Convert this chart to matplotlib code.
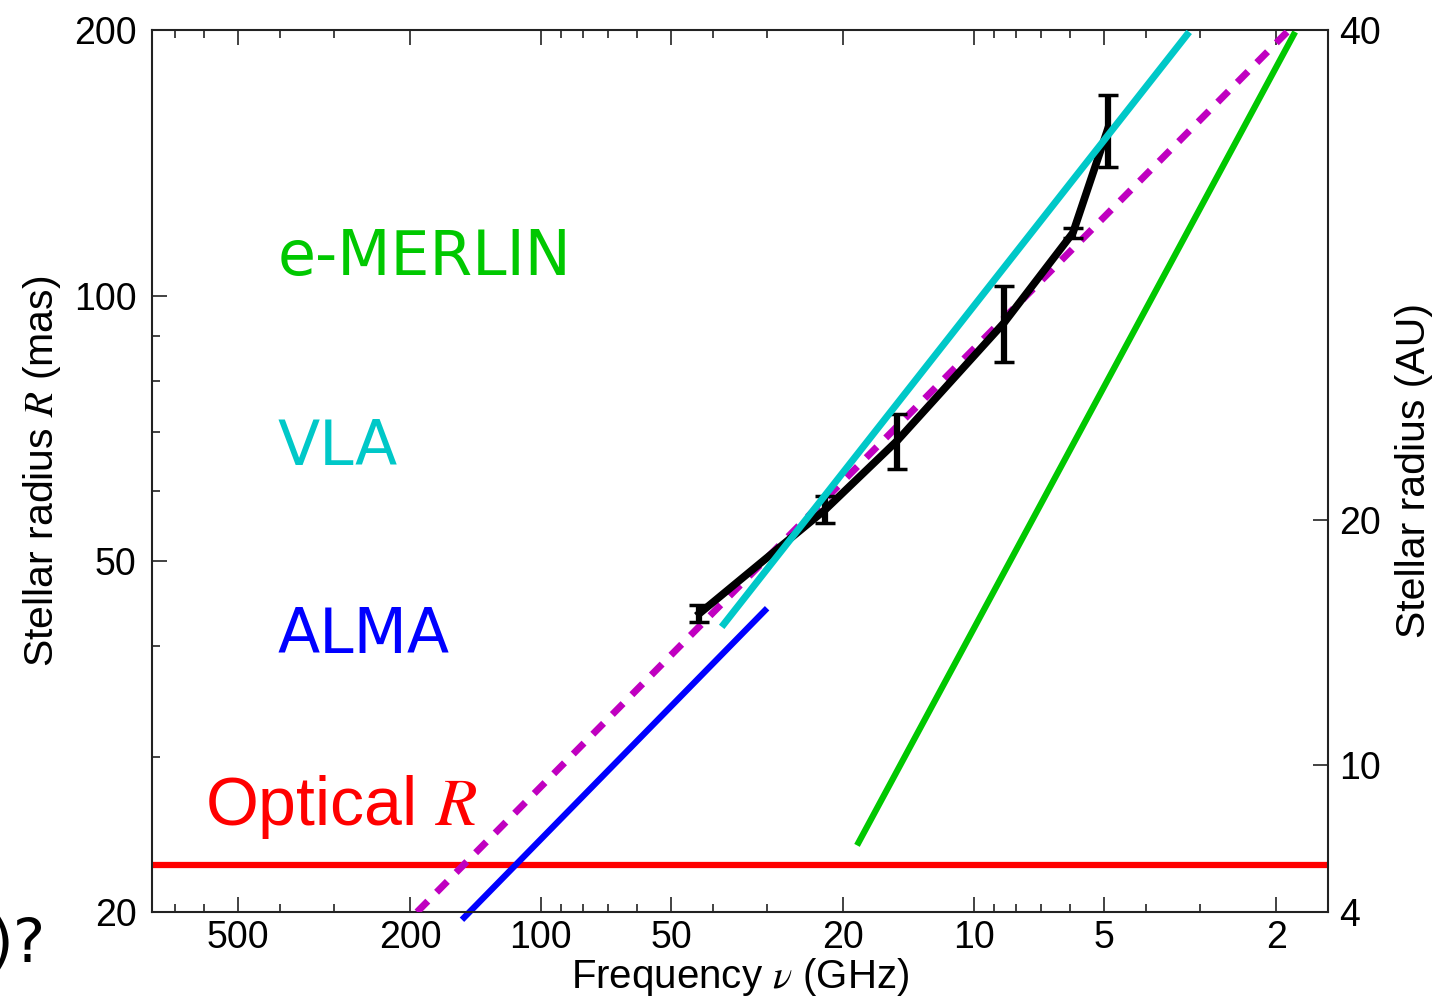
import matplotlib
matplotlib.use("Agg")
import matplotlib.pyplot as plt
import numpy as np
from matplotlib.ticker import LogLocator, FixedLocator, NullFormatter, FixedFormatter

plt.rcParams['font.family'] = ['Liberation Sans', 'DejaVu Sans']
plt.rcParams['mathtext.fontset'] = 'stix'

# ---- data ----
# measured radii (black line with error bars)
obs_freq = [43.0, 22.0, 15.0, 8.5, 5.9, 4.9]      # GHz
obs_R = [43.6, 57.2, 68.5, 93.2, 117.8, 154.5]    # mas
obs_err = [1.0, 2.0, 4.9, 9.2, 1.5, 14.5]

# model line (magenta dashed)
model_freq = [193.0, 1.87]
model_R = [20.0, 200.0]

# instrument resolution lines
vla_freq = [38.2, 3.18]
vla_R = [42.1, 199.0]
alma_freq = [152.0, 30.0]
alma_R = [19.6, 44.2]
merlin_freq = [18.6, 1.81]
merlin_R = [23.8, 199.0]

optical_R = 22.6

xticks_major = [500, 200, 100, 50, 20, 10, 5, 2]
xtick_labels = ['500', '200', '100', '50', '20', '10', '5', '2']
yticks_major = [20, 50, 100, 200]
ytick_labels = ['20', '50', '100', '200']
y2ticks = [4, 10, 20, 40]
y2tick_labels = ['4', '10', '20', '40']

# ---- colours ----
c_mag = '#c000c0'
c_cyan = '#00c8c8'
c_blue = '#0000ff'
c_green = '#00c800'
c_red = '#ff0000'

fig = plt.figure(figsize=(14.38, 9.99), dpi=100)
ax = fig.add_axes([152/1438, 1-912/999, (1328-152)/1438, (912-30)/999])

ax.set_xscale('log')
ax.set_yscale('log')
ax.set_xlim(790, 1.52)
ax.set_ylim(20, 200)

ax.axhline(optical_R, color=c_red, lw=4.5, zorder=2)
ax.plot(merlin_freq, merlin_R, color=c_green, lw=4.5, solid_capstyle='butt', zorder=2)
ax.plot(alma_freq, alma_R, color=c_blue, lw=4.5, solid_capstyle='butt', zorder=2, clip_on=False)
ax.plot(model_freq, model_R, color=c_mag, lw=5, linestyle=(0, (2.2, 1.8)), zorder=3)
ax.plot(obs_freq, obs_R, color='black', lw=5.5, zorder=4)
ax.errorbar(obs_freq, obs_R, yerr=obs_err, fmt='none', ecolor='black',
            elinewidth=4.5, capsize=7.5, capthick=2.5, zorder=4)
ax.plot(vla_freq, vla_R, color=c_cyan, lw=5, solid_capstyle='butt', zorder=5)

# ticks
ax.xaxis.set_major_locator(FixedLocator(xticks_major))
ax.xaxis.set_major_formatter(FixedFormatter(xtick_labels))
ax.xaxis.set_minor_locator(LogLocator(base=10, subs=np.arange(2, 10)))
ax.xaxis.set_minor_formatter(NullFormatter())
ax.yaxis.set_major_locator(FixedLocator(yticks_major))
ax.yaxis.set_major_formatter(FixedFormatter(ytick_labels))
ax.yaxis.set_minor_locator(LogLocator(base=10, subs=np.arange(2, 10)))
ax.yaxis.set_minor_formatter(NullFormatter())

ax.tick_params(which='both', direction='in', top=True, right=True, color='#222222', width=1.2)
ax.tick_params(which='major', length=11)
ax.tick_params(which='minor', length=6)
ax.tick_params(axis='x', which='major', labelsize=27, pad=6)
ax.tick_params(axis='y', which='major', labelsize=27, pad=11)

for s in ax.spines.values():
    s.set_linewidth(1.5)
    s.set_color('#222222')

ax.set_xlabel(r'Frequency $\nu$ (GHz)', fontsize=29, labelpad=0)
ax.set_ylabel(r'Stellar radius $R$ (mas)', fontsize=29.5, labelpad=8)

ax2 = ax.twinx()
ax2.set_ylim(4, 40)
ax2.yaxis.set_major_locator(FixedLocator(y2ticks))
ax2.yaxis.set_major_formatter(FixedFormatter(y2tick_labels))
ax2.tick_params(direction='in', length=11, width=1.2, labelsize=27, pad=8, color='#222222')
ax2.set_ylabel('Stellar radius (AU)', fontsize=29.5, labelpad=10)
for s in ax2.spines.values():
    s.set_visible(False)

# labels
ax.text(0.107, 0.722, 'e-MERLIN', transform=ax.transAxes, color=c_green,
        fontsize=44.5, family='DejaVu Sans', va='baseline', ha='left')
ax.text(0.107, 0.507, 'VLA', transform=ax.transAxes, color=c_cyan,
        fontsize=44.5, family='DejaVu Sans', va='baseline', ha='left')
ax.text(0.107, 0.2937, 'ALMA', transform=ax.transAxes, color=c_blue,
        fontsize=44.5, family='DejaVu Sans', va='baseline', ha='left')
ax.text(0.045, 0.0986, r'Optical $R$', transform=ax.transAxes, color=c_red,
        fontsize=49, va='baseline', ha='left')

fig.text(-11/1438, 1-962/999, ')?', fontsize=44, family='DejaVu Sans',
         ha='left', va='baseline', color='black')

fig.savefig('out.png', dpi=100)
